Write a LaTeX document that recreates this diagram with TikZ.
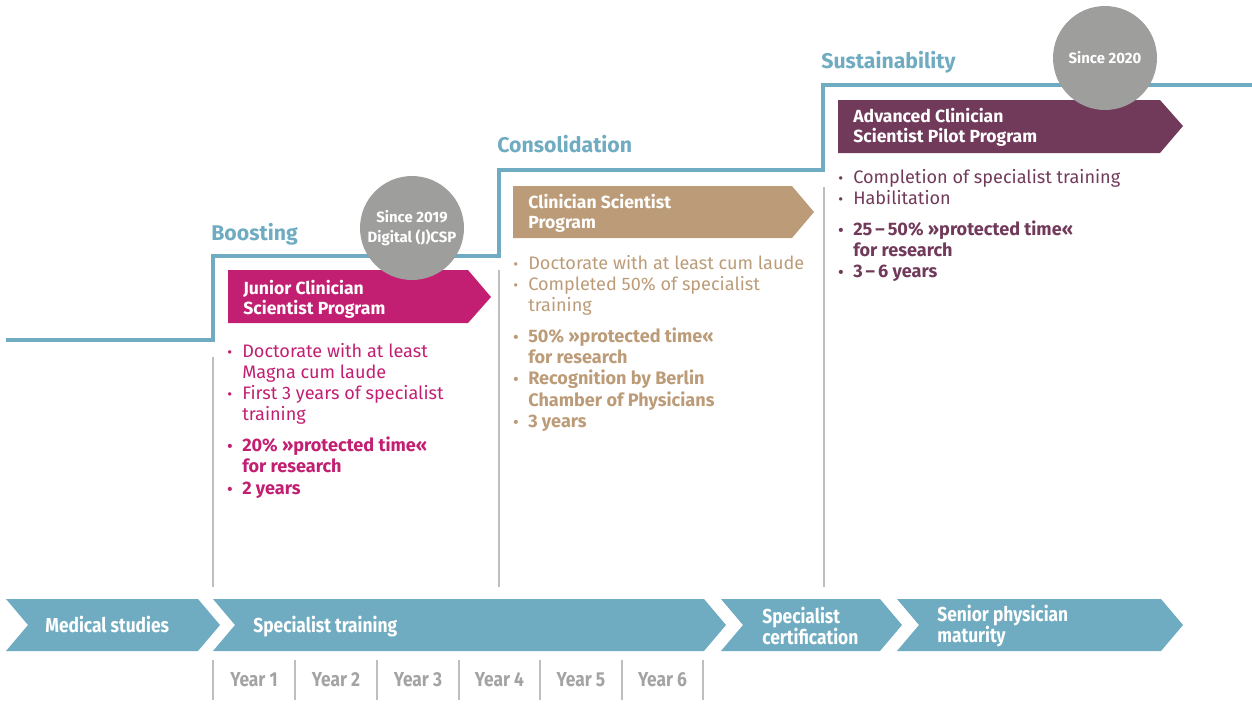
\documentclass[tikz,border=0pt]{standalone}
\usepackage{fontspec}
\setmainfont{Fira Sans}
\newfontfamily\condfont[FakeStretch=0.86]{Fira Sans}
\definecolor{cblue}{HTML}{6FABC1}
\definecolor{cmag}{HTML}{C21F72}
\definecolor{ctan}{HTML}{BC9C78}
\definecolor{cplum}{HTML}{713A5A}
\definecolor{ccirc}{HTML}{9E9E9D}
\definecolor{cyear}{HTML}{A3A3A3}
\definecolor{cvline}{HTML}{BEBEBE}
\newcommand{\bl}{\makebox[0pt][l]{\fontsize{8.5}{8.5}\selectfont •}}
\begin{document}
\begin{tikzpicture}[x=0.02cm,y=-0.02cm,
  stepline/.style={draw=cblue,line width=2.3pt},
  vline/.style={draw=cvline,line width=0.8pt},
  chev/.style={fill=cblue},
  chevtext/.style={text=white,font=\condfont\bfseries\fontsize{11.5}{12.2}\selectfont,inner sep=0pt},
  progtitle/.style={text=white,font=\bfseries\fontsize{10}{11.9}\selectfont,inner sep=0pt,anchor=base west},
  head/.style={text=cblue,font=\bfseries\fontsize{12.1}{14}\selectfont,inner sep=0pt,anchor=base west},
  circ/.style={circle,fill=ccirc,minimum size=2.08cm,inner sep=0pt,text=white,font=\bfseries\fontsize{8.5}{11.4}\selectfont,align=center},
  body/.style={font=\fontsize{10.3}{12}\selectfont,inner sep=0pt,anchor=base west},
  yr/.style={text=cyear,font=\condfont\bfseries\fontsize{11.5}{12}\selectfont,inner sep=0pt},
  ysep/.style={draw=cvline,line width=0.8pt}
]
\useasboundingbox (0,0) rectangle (1252,725);

% grey vertical lines
\coordinate (v1t) at (213,357); \coordinate (v1b) at (213,587);
\coordinate (v2t) at (499,270); \coordinate (v2b) at (499,587);
\coordinate (v3t) at (824,187); \coordinate (v3b) at (824,587);
\draw[vline] (v1t) -- (v1b);
\draw[vline] (v2t) -- (v2b);
\draw[vline] (v3t) -- (v3b);

% step line
\coordinate (s0) at (6,340);
\coordinate (s1) at (213,340);
\coordinate (s2) at (213,256);
\coordinate (s3) at (499,256);
\coordinate (s4) at (499,170);
\coordinate (s5) at (823,170);
\coordinate (s6) at (823,85);
\coordinate (s7) at (1252,85);
\draw[stepline] (s0) -- (s1) -- (s2) -- (s3) -- (s4) -- (s5) -- (s6) -- (s7);

% headings
\node[head] (hboost) at (211,240) {Boosting};
\node[head] (hcons) at (497,152) {Consolidation};
\node[head] (hsust) at (821,68) {Sustainability};

% program boxes
\fill[cmag] (228,270) -- (468,270) -- (491,297) -- (468,323) -- (228,323) -- cycle;
\fill[ctan] (513,186) -- (792,186) -- (814,212) -- (792,238) -- (513,238) -- cycle;
\fill[cplum] (838,100) -- (1160,100) -- (1183,126) -- (1160,153) -- (838,153) -- cycle;

\node[progtitle] (tjun) at (243,294) {\begin{tabular}[t]{@{}l@{}}Junior Clinician\\Scientist Program\end{tabular}};
\node[progtitle] (tcs) at (528,208) {\begin{tabular}[t]{@{}l@{}}Clinician Scientist\\Program\end{tabular}};
\node[progtitle] (tacs) at (853,122) {\begin{tabular}[t]{@{}l@{}}Advanced Clinician\\Scientist Pilot Program\end{tabular}};

% circles
\node[circ] (c2019) at (412,228) {Since 2019\\Digital (J)CSP};
\node[circ] (c2020) at (1105,58) {Since 2020};

% bullet lists
\node[body,text=cmag] (ljun) at (227,357) {\begin{tabular}[t]{@{}p{8.5pt}@{}l@{}}
\bl & Doctorate with at least\\
 & Magna cum laude\\
\bl & First 3 years of specialist\\
 & training\\[6pt]
\bfseries\bl & \bfseries 20\% »protected time«\\
 & \bfseries for research\\
\bfseries\bl & \bfseries 2 years
\end{tabular}};
\node[body,text=ctan] (lcs) at (513,269) {\begin{tabular}[t]{@{}p{8.5pt}@{}l@{}}
\bl & Doctorate with at least cum laude\\
\bl & Completed 50\% of specialist\\
 & training\\[6pt]
\bfseries\bl & \bfseries 50\% »protected time«\\
 & \bfseries for research\\
\bfseries\bl & \bfseries Recognition by Berlin\\
 & \bfseries Chamber of Physicians\\
\bfseries\bl & \bfseries 3 years
\end{tabular}};
\node[body,text=cplum] (lacs) at (838,183) {\begin{tabular}[t]{@{}p{8.5pt}@{}l@{}}
\bl & Completion of specialist training\\
\bl & Habilitation\\[6pt]
\bfseries\bl & \bfseries 25\,–\,50\% »protected time«\\
 & \bfseries for research\\
\bfseries\bl & \bfseries 3\,–\,6 years
\end{tabular}};

% bottom chevrons
\fill[chev] (6,599) -- (198,599) -- (220,625) -- (198,651) -- (6,651) -- (28,625) -- cycle;
\fill[chev] (213,599) -- (704,599) -- (726,625) -- (704,651) -- (213,651) -- (235,625) -- cycle;
\fill[chev] (721,599) -- (880,599) -- (902,625) -- (880,651) -- (721,651) -- (743,625) -- cycle;
\fill[chev] (897,599) -- (1161,599) -- (1183,625) -- (1161,651) -- (897,651) -- (919,625) -- cycle;
\node[chevtext,anchor=base west] (med) at (45,632) {Medical studies};
\node[chevtext,anchor=base west] (spec) at (253,632) {Specialist training};
\node[chevtext,anchor=west,align=left] (cert) at (762,626) {Specialist\\certification};
\node[chevtext,anchor=west,align=left] (senior) at (937,626) {Senior physician\\maturity};

% year row
\foreach \i/\x in {0/213,1/295,2/377,3/459,4/540,5/622,6/703}{
  \coordinate (yt\i) at (\x,660);
  \coordinate (yb\i) at (\x,700);
  \draw[ysep] (yt\i) -- (yb\i);
}
\foreach \i/\x in {1/254,2/336,3/418,4/499.5,5/581,6/662.5}{
  \node[yr] (year\i) at (\x,680) {Year \i};
}
\end{tikzpicture}
\end{document}
